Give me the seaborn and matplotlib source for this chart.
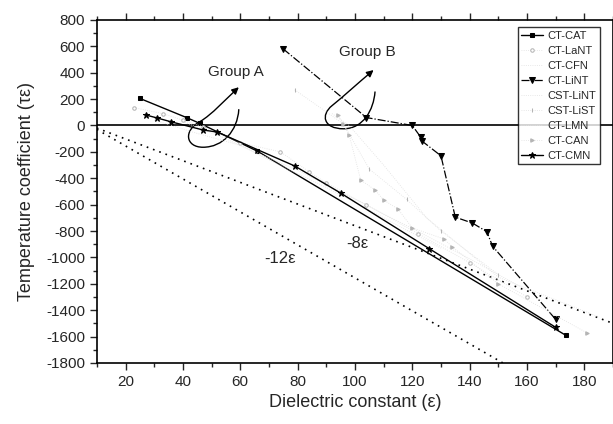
import matplotlib
matplotlib.use("Agg")
import matplotlib.pyplot as plt
from matplotlib.path import Path
from matplotlib.patches import FancyArrowPatch
from matplotlib.ticker import MultipleLocator
import seaborn as sns

# ---- data ----
cat_x = [25, 41.6, 46, 66, 173.5]
cat_y = [205, 57, 15, -195, -1590]

lant_x = [23, 33, 40, 47, 60, 74, 84, 90, 104, 122, 140, 160]
lant_y = [135, 90, 40, -10, -130, -200, -350, -436, -600, -820, -1040, -1300]

cfn_x = [30, 45, 60, 80, 100, 120, 140, 160]
cfn_y = [40, -60, -150, -340, -560, -780, -1010, -1250]

lint_x = [75, 104, 120, 123, 123.5, 130, 135, 141, 146, 148, 170]
lint_y = [580, 60, 0, -90, -120, -230, -695, -740, -805, -915, -1470]

cst_lint_x = [92, 98, 110, 125, 150, 185]
cst_lint_y = [90, 0, -300, -700, -1150, -1450]

cst_list_x = [79, 96, 105, 118, 130, 150]
cst_list_y = [270, 12, -330, -560, -800, -1130]

lmn_x = [40, 55, 70, 90, 110, 130]
lmn_y = [30, -100, -260, -470, -700, -930]

can_x = [94, 96, 98, 102, 107, 110, 115, 120, 131, 134, 150, 181]
can_y = [80, 12, -72, -413, -489, -565, -633, -777, -860, -921, -1200, -1573]

cmn_x = [27, 31, 36, 47, 52, 79, 95, 126, 170]
cmn_y = [80, 57, 27, -34, -50, -307, -512, -935, -1530]

# reference lines
ref_x = [10, 190]
ref_zero = [0, 0]
ref_8 = [-20, -1500]
ref_12 = [-30, -2280]

sns.set_style("ticks")
plt.rcParams["font.family"] = ["Liberation Sans", "DejaVu Sans"]
plt.rcParams["axes.unicode_minus"] = False

fig = plt.figure(figsize=(6.13, 4.24), dpi=100)
ax = fig.add_axes([0.158, 0.144, 0.842, 0.809])

ax.plot(ref_x, ref_zero, color="black", lw=1.2)
ax.plot(ref_x, ref_8, color="black", lw=1.2, ls=(0, (1, 3)))
ax.plot(ref_x, ref_12, color="black", lw=1.2, ls=(0, (1, 3)))

grey = "#b4b4b4"
faint = "#e0e0e0"
sns.lineplot(x=cat_x, y=cat_y, ax=ax, sort=False, color="black", lw=1,
             marker="s", markersize=3.5, markeredgecolor="black", label="CT-CAT")
sns.lineplot(x=lant_x, y=lant_y, ax=ax, sort=False, color=faint, lw=0.6,
             ls=":", marker="o", markersize=2.5, markerfacecolor="white",
             markeredgecolor=grey, label="CT-LaNT")
sns.lineplot(x=cfn_x, y=cfn_y, ax=ax, sort=False, color=faint, lw=0.6,
             ls=":", label="CT-CFN")
sns.lineplot(x=lint_x, y=lint_y, ax=ax, sort=False, color="black", lw=0.9,
             ls="-.", marker="v", markersize=4, markeredgecolor="black",
             label="CT-LiNT")
sns.lineplot(x=cst_lint_x, y=cst_lint_y, ax=ax, sort=False, color=faint,
             lw=0.6, ls=":", label="CST-LiNT")
sns.lineplot(x=cst_list_x, y=cst_list_y, ax=ax, sort=False, color=faint,
             lw=0.6, ls=":", marker="|", markersize=3,
             markeredgecolor=grey, label="CST-LiST")
sns.lineplot(x=lmn_x, y=lmn_y, ax=ax, sort=False, color=faint, lw=0.6,
             ls=":", label="CT-LMN")
sns.lineplot(x=can_x, y=can_y, ax=ax, sort=False, color=faint, lw=0.6,
             ls=":", marker=">", markersize=2.5, markeredgecolor=grey,
             markerfacecolor=grey, label="CT-CAN")
sns.lineplot(x=cmn_x, y=cmn_y, ax=ax, sort=False, color="black", lw=1,
             marker="*", markersize=4.5, markeredgecolor="black", label="CT-CMN")

# hand drawn loops marking the groups
loop_codes = [Path.MOVETO] + [Path.CURVE4] * 9
loop_a = [(59.5, 120), (59, -40), (54, -165), (47, -165),
          (41, -165), (40, -40), (46, 30),
          (50, 80), (55, 200), (59.5, 290)]
loop_b = [(107, 254), (106.5, 120), (103, -25), (96, -25),
          (89, -25), (88, 80), (92, 150),
          (96, 220), (101, 320), (106.5, 420)]
for verts in (loop_a, loop_b):
    ax.add_patch(FancyArrowPatch(path=Path(verts, loop_codes),
                                 arrowstyle="-|>", mutation_scale=10,
                                 color="black", lw=1))

ax.text(58.6, 406, "Group A", fontsize=11, ha="center", va="center")
ax.text(104.2, 557, "Group B", fontsize=11, ha="center", va="center")
ax.text(73.9, -1012, "-12ε", fontsize=12, ha="center", va="center")
ax.text(101, -898, "-8ε", fontsize=12, ha="center", va="center")

ax.set_xlim(10, 190)
ax.set_ylim(-1800, 800)
ax.set_xticks([20, 40, 60, 80, 100, 120, 140, 160, 180])
ax.set_yticks(range(-1800, 801, 200))
ax.xaxis.set_minor_locator(MultipleLocator(10))
ax.yaxis.set_minor_locator(MultipleLocator(100))
ax.tick_params(which="both", direction="out", top=True, right=True,
               labelsize=11, width=1)
ax.tick_params(which="major", length=5)
ax.tick_params(which="minor", length=3)
ax.set_xlabel("Dielectric constant (ε)", fontsize=13)
ax.set_ylabel("Temperature coefficient (τε)", fontsize=13, labelpad=8)
for s in ax.spines.values():
    s.set_linewidth(1.2)
    s.set_color("black")

leg = ax.legend(loc="upper right", fontsize=8, frameon=True, fancybox=False,
                edgecolor="black", handlelength=2, borderpad=0.3,
                labelspacing=0.45, handletextpad=0.4,
                bbox_to_anchor=(0.985, 0.995))
leg.get_frame().set_linewidth(1)

fig.savefig("out.png", dpi=100)
